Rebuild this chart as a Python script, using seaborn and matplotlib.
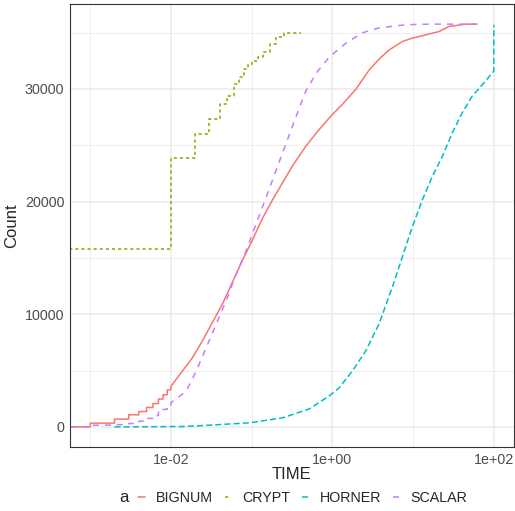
import numpy as np
import pandas as pd
import seaborn as sns
import matplotlib.pyplot as plt
from matplotlib.lines import Line2D
from matplotlib.ticker import FixedLocator, FuncFormatter

sns.set_style('white')
plt.rcParams['font.family'] = ['Liberation Sans', 'DejaVu Sans']

# cumulative counts (time 0 -> left panel edge, like ggplot's -Inf)
# early part of each curve is a staircase (jump times + count after the jump)
BIGNUM_STEP_T = [0, 0.001, 0.002, 0.003, 0.004, 0.005, 0.006, 0.007, 0.008, 0.009, 0.010]
BIGNUM_STEP_N = [0, 330, 690, 1070, 1360, 1720, 2070, 2470, 2850, 3290, 3600]
BIGNUM_T = [0.0139, 0.0185, 0.0246, 0.0327, 0.0435, 0.0578, 0.0769, 0.102, 0.136, 0.181,
            0.240, 0.320, 0.468, 0.684, 1.0, 1.33, 1.95, 2.86, 3.78, 5.06, 7.31, 9.72,
            20.9, 27.8, 45.1, 61.7]
BIGNUM_N = [4960, 6140, 7640, 9270, 10910, 12840, 14780, 16570, 18500, 20140,
            21630, 23160, 24900, 26390, 27730, 28620, 29960, 31680, 32640, 33460, 34200, 34500,
            35090, 35540, 35750, 35750]

CRYPT_STEP_T = [0, 0.01, 0.02, 0.03, 0.04, 0.05, 0.06, 0.07, 0.08, 0.09, 0.1,
                0.12, 0.14, 0.17, 0.2, 0.25]
CRYPT_STEP_N = [15800, 23900, 26000, 27300, 28700, 29400, 30400, 31100, 31800, 32200, 32500,
                32800, 33300, 34000, 34600, 35000]
CRYPT_T = [0.41]
CRYPT_N = [35000]

HORNER_STEP_T = []
HORNER_STEP_N = []
HORNER_T = [0.002, 0.014, 0.03, 0.0944, 0.241, 0.52, 0.918, 1.21, 1.77, 2.59, 3.78, 5.53,
            7.35, 9.77, 13.0, 17.3, 23.0, 30.5, 40.6, 54.0, 79.0, 100, 100]
HORNER_N = [0, 30, 150, 360, 800, 1600, 2760, 3460, 4960, 6740, 9130, 12400,
            15070, 17750, 20140, 22220, 24000, 26090, 27880, 29360, 30700, 31590, 35700]

SCALAR_STEP_T = [0, 0.001, 0.002, 0.003, 0.004, 0.005, 0.006, 0.007, 0.008, 0.009, 0.010]
SCALAR_STEP_N = [0, 150, 200, 300, 500, 750, 1000, 1300, 1550, 1850, 2150]
SCALAR_T = [0.0155, 0.0206, 0.0274, 0.0364, 0.0484, 0.0645, 0.0859, 0.114, 0.152, 0.202,
            0.268, 0.357, 0.468, 0.634, 0.918, 1.49, 2.35, 3.80, 8.2, 15.8, 61.7]
SCALAR_N = [3170, 4960, 7040, 9130, 11210, 13590, 15670, 18060, 20430, 22820,
            25200, 27580, 29800, 31420, 32840, 34090, 34980, 35420, 35700, 35750, 35750]

LEVELS = ['BIGNUM', 'CRYPT', 'HORNER', 'SCALAR']
COLORS = {'BIGNUM': '#F8766D', 'CRYPT': '#7CAE00', 'HORNER': '#00BFC4', 'SCALAR': '#C77CFF'}
DASHES = {'BIGNUM': '', 'CRYPT': (2, 2), 'HORNER': (4, 2), 'SCALAR': (4, 4)}


def stairs(t, n, start=0):
    xs, ys = [], []
    prev = start
    for ti, ni in zip(t, n):
        xs += [ti, ti]
        ys += [prev, ni]
        prev = ni
    return xs, ys


series = {
    'BIGNUM': (BIGNUM_STEP_T, BIGNUM_STEP_N, BIGNUM_T, BIGNUM_N),
    'CRYPT': (CRYPT_STEP_T, CRYPT_STEP_N, CRYPT_T, CRYPT_N),
    'HORNER': (HORNER_STEP_T, HORNER_STEP_N, HORNER_T, HORNER_N),
    'SCALAR': (SCALAR_STEP_T, SCALAR_STEP_N, SCALAR_T, SCALAR_N),
}

rows = []
for name in LEVELS:
    st, sn, t, n = series[name]
    xs, ys = stairs(st, sn)
    xs += list(t)
    ys += list(n)
    for i, (x, y) in enumerate(zip(xs, ys)):
        rows.append((name, i, x, y))
df = pd.DataFrame(rows, columns=['a', 'i', 'TIME', 'Count'])

# ggplot-like limits: 5% expansion of the finite range
finite = df.loc[df['TIME'] > 0, 'TIME']
lo, hi = np.log10(finite.min()), np.log10(finite.max())
pad = 0.05 * (hi - lo)
xlim = (10 ** (lo - pad), 10 ** (hi + pad))
ymin, ymax = 0, df['Count'].max()
ypad = 0.05 * (ymax - ymin)
df.loc[df['TIME'] <= 0, 'TIME'] = xlim[0]

fig = plt.figure(figsize=(5.15, 5.11), dpi=100)
ax = fig.add_axes([70 / 515, 1 - 447 / 511, 444 / 515, 443 / 511])

sns.lineplot(data=df, x='TIME', y='Count', hue='a', style='a', hue_order=LEVELS,
             style_order=LEVELS, palette=COLORS, dashes=DASHES, estimator=None,
             sort=False, units='a', lw=1.1, legend=False, ax=ax)

ax.set_xscale('log')
ax.set_xlim(xlim)
ax.set_ylim(ymin - ypad, ymax + ypad)

ax.xaxis.set_major_locator(FixedLocator([1e-2, 1e0, 1e2]))
ax.xaxis.set_minor_locator(FixedLocator([1e-3, 1e-1, 1e1]))
ax.xaxis.set_major_formatter(FuncFormatter(lambda v, p: format(v, '.0e')))
ax.xaxis.set_minor_formatter(FuncFormatter(lambda v, p: ''))
ax.yaxis.set_major_locator(FixedLocator([0, 10000, 20000, 30000]))
ax.yaxis.set_minor_locator(FixedLocator([5000, 15000, 25000, 35000]))

ax.grid(which='major', color='#EBEBEB', lw=1.1)
ax.grid(which='minor', color='#EBEBEB', lw=0.6)
ax.set_axisbelow(True)
ax.tick_params(which='major', length=3, width=0.8, color='#333333',
               labelsize=10.3, labelcolor='#4D4D4D', pad=1)
ax.tick_params(which='minor', length=0)
for s in ax.spines.values():
    s.set_color('#333333')
    s.set_linewidth(0.8)

ax.set_xlabel('TIME', fontsize=12, labelpad=0)
ax.set_ylabel('Count', fontsize=12, labelpad=4)

handles = [Line2D([], [], color=COLORS[k], lw=1.1,
                  dashes=DASHES[k] if DASHES[k] else (None, None)) for k in LEVELS]
fig.legend(handles, LEVELS, loc='center', ncol=4, frameon=False,
           bbox_to_anchor=(303 / 515, 1 - 498 / 511), fontsize=10.3,
           handlelength=0.45, handletextpad=0.8, columnspacing=0.8)
fig.text(124 / 515, 1 - 498 / 511, 'a', fontsize=12, ha='center', va='center')

fig.savefig('out.png', dpi=100)
